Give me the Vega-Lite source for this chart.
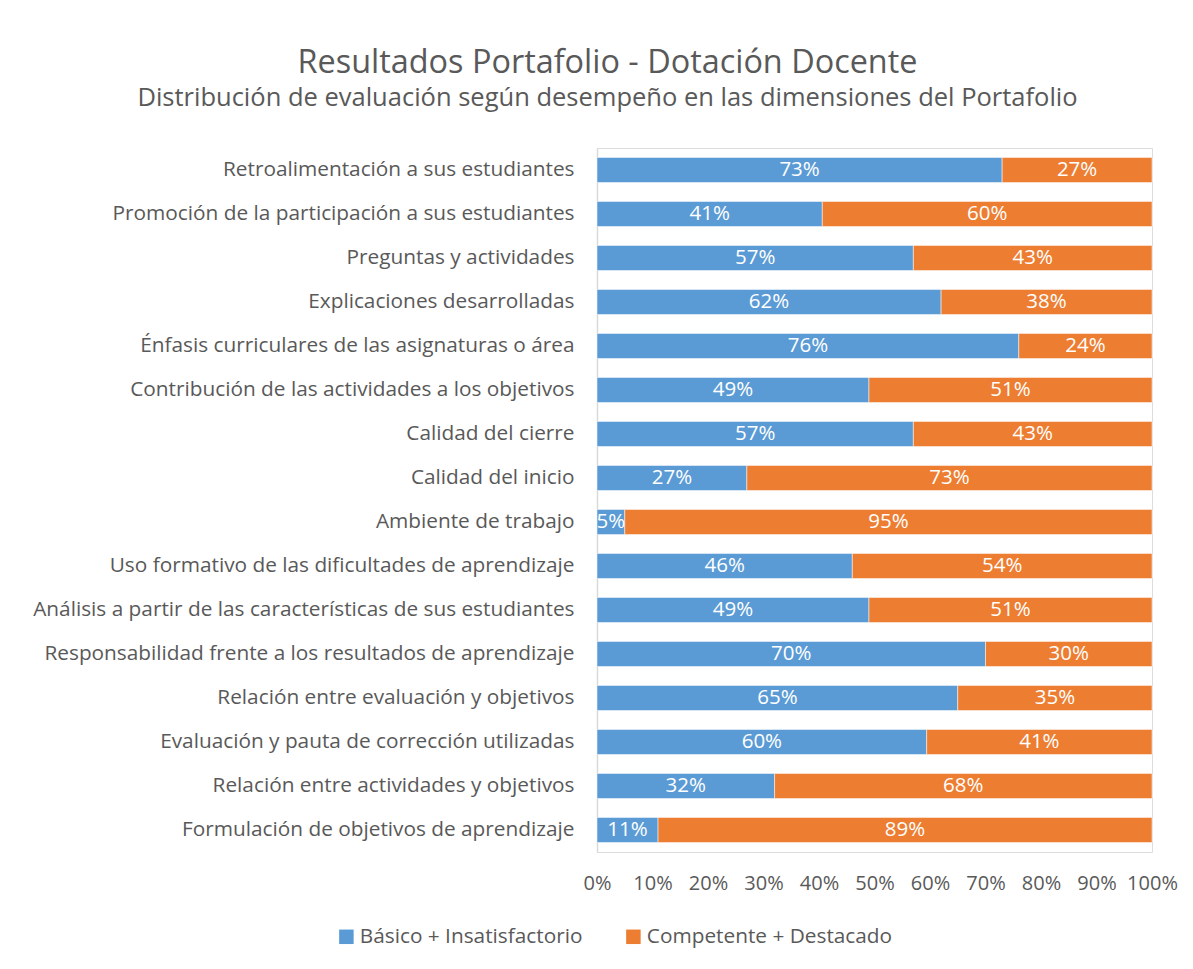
{
  "$schema": "https://vega.github.io/schema/vega-lite/v6.json",
  "autosize": {"type": "none"},
  "width": 555,
  "height": 704,
  "padding": {"left": 597, "top": 148, "right": 41, "bottom": 117},
  "background": "white",
  "title": {
    "text": "Resultados Portafolio - Dotación Docente",
    "subtitle": "Distribución de evaluación según desempeño en las dimensiones del Portafolio",
    "anchor": "middle",
    "frame": "group",
    "dx": -267,
    "offset": 37,
    "font": "Open Sans",
    "fontSize": 32.4,
    "fontWeight": "normal",
    "color": "#595959",
    "subtitleFont": "Open Sans",
    "subtitleFontSize": 25.5,
    "subtitleColor": "#595959",
    "subtitlePadding": 6
  },
  "data": {
    "values": [
      {"dim": "Retroalimentación a sus estudiantes", "cat": "Básico + Insatisfactorio", "value": 0.73},
      {"dim": "Retroalimentación a sus estudiantes", "cat": "Competente + Destacado", "value": 0.27},
      {"dim": "Promoción de la participación a sus estudiantes", "cat": "Básico + Insatisfactorio", "value": 0.41},
      {"dim": "Promoción de la participación a sus estudiantes", "cat": "Competente + Destacado", "value": 0.60},
      {"dim": "Preguntas y actividades", "cat": "Básico + Insatisfactorio", "value": 0.57},
      {"dim": "Preguntas y actividades", "cat": "Competente + Destacado", "value": 0.43},
      {"dim": "Explicaciones desarrolladas", "cat": "Básico + Insatisfactorio", "value": 0.62},
      {"dim": "Explicaciones desarrolladas", "cat": "Competente + Destacado", "value": 0.38},
      {"dim": "Énfasis curriculares de las asignaturas o área", "cat": "Básico + Insatisfactorio", "value": 0.76},
      {"dim": "Énfasis curriculares de las asignaturas o área", "cat": "Competente + Destacado", "value": 0.24},
      {"dim": "Contribución de las actividades a los objetivos", "cat": "Básico + Insatisfactorio", "value": 0.49},
      {"dim": "Contribución de las actividades a los objetivos", "cat": "Competente + Destacado", "value": 0.51},
      {"dim": "Calidad del cierre", "cat": "Básico + Insatisfactorio", "value": 0.57},
      {"dim": "Calidad del cierre", "cat": "Competente + Destacado", "value": 0.43},
      {"dim": "Calidad del inicio", "cat": "Básico + Insatisfactorio", "value": 0.27},
      {"dim": "Calidad del inicio", "cat": "Competente + Destacado", "value": 0.73},
      {"dim": "Ambiente de trabajo", "cat": "Básico + Insatisfactorio", "value": 0.05},
      {"dim": "Ambiente de trabajo", "cat": "Competente + Destacado", "value": 0.95},
      {"dim": "Uso formativo de las dificultades de aprendizaje", "cat": "Básico + Insatisfactorio", "value": 0.46},
      {"dim": "Uso formativo de las dificultades de aprendizaje", "cat": "Competente + Destacado", "value": 0.54},
      {"dim": "Análisis a partir de las características de sus estudiantes", "cat": "Básico + Insatisfactorio", "value": 0.49},
      {"dim": "Análisis a partir de las características de sus estudiantes", "cat": "Competente + Destacado", "value": 0.51},
      {"dim": "Responsabilidad frente a los resultados de aprendizaje", "cat": "Básico + Insatisfactorio", "value": 0.70},
      {"dim": "Responsabilidad frente a los resultados de aprendizaje", "cat": "Competente + Destacado", "value": 0.30},
      {"dim": "Relación entre evaluación y objetivos", "cat": "Básico + Insatisfactorio", "value": 0.65},
      {"dim": "Relación entre evaluación y objetivos", "cat": "Competente + Destacado", "value": 0.35},
      {"dim": "Evaluación y pauta de corrección utilizadas", "cat": "Básico + Insatisfactorio", "value": 0.60},
      {"dim": "Evaluación y pauta de corrección utilizadas", "cat": "Competente + Destacado", "value": 0.41},
      {"dim": "Relación entre actividades y objetivos", "cat": "Básico + Insatisfactorio", "value": 0.32},
      {"dim": "Relación entre actividades y objetivos", "cat": "Competente + Destacado", "value": 0.68},
      {"dim": "Formulación de objetivos de aprendizaje", "cat": "Básico + Insatisfactorio", "value": 0.11},
      {"dim": "Formulación de objetivos de aprendizaje", "cat": "Competente + Destacado", "value": 0.89}
    ]
  },
  "transform": [
    {"stack": "value", "groupby": ["dim"], "sort": [{"field": "cat", "order": "ascending"}], "as": ["x0", "x1"], "offset": "normalize"},
    {"calculate": "(datum.x0 + datum.x1) / 2", "as": "xm"}
  ],
  "encoding": {
    "y": {
      "field": "dim",
      "type": "nominal",
      "sort": null,
      "scale": {"paddingInner": 0.43, "paddingOuter": 0.215},
      "axis": {
        "title": null,
        "ticks": false,
        "domain": true,
        "domainColor": "#D9D9D9",
        "domainWidth": 1.5,
        "labelFont": "Open Sans",
        "labelFontSize": 20.8,
        "labelColor": "#595959",
        "labelPadding": 23,
        "labelLimit": 700
      }
    }
  },
  "layer": [
    {
      "mark": {"type": "bar", "stroke": "white", "strokeWidth": 0.5},
      "encoding": {
        "x": {
          "field": "x0",
          "type": "quantitative",
          "scale": {"domain": [0, 1], "nice": false},
          "axis": {
            "title": null,
            "format": ".0%",
            "values": [0, 0.1, 0.2, 0.3, 0.4, 0.5, 0.6, 0.7, 0.8, 0.9, 1],
            "grid": false,
            "domain": false,
            "ticks": false,
            "labelFont": "Open Sans",
            "labelFontSize": 20,
            "labelColor": "#595959",
            "labelPadding": 21,
            "labelFlush": false
          }
        },
        "x2": {"field": "x1"},
        "color": {
          "field": "cat",
          "type": "nominal",
          "scale": {"domain": ["Básico + Insatisfactorio", "Competente + Destacado"], "range": ["#5B9BD5", "#ED7D31"]},
          "legend": {
            "title": null,
            "orient": "none",
            "legendX": -261,
            "legendY": 778,
            "direction": "horizontal",
            "symbolType": "square",
            "symbolSize": 210,
            "symbolStrokeWidth": 0,
            "labelFont": "Open Sans",
            "labelFontSize": 20.8,
            "labelColor": "#595959",
            "labelLimit": 400,
            "labelOffset": 3,
            "columnPadding": 40
          }
        }
      }
    },
    {
      "mark": {"type": "text", "color": "white", "font": "Open Sans", "fontSize": 20.5, "align": "center", "baseline": "middle"},
      "encoding": {
        "x": {"field": "xm", "type": "quantitative"},
        "text": {"field": "value", "type": "quantitative", "format": ".0%"}
      }
    }
  ]
}
